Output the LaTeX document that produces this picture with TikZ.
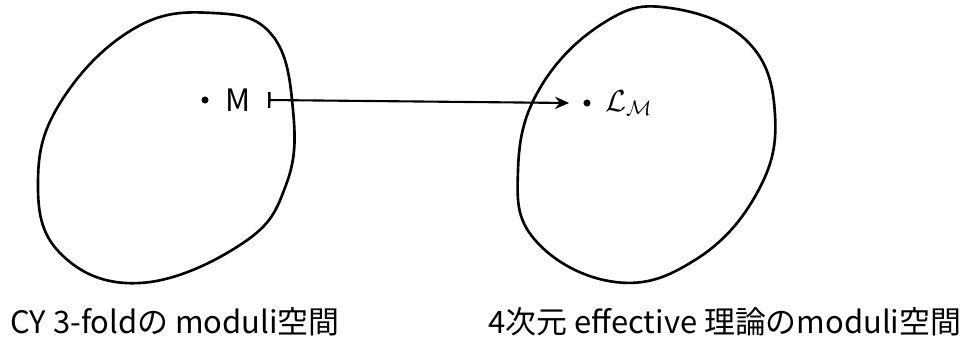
\documentclass[tikz,border=0pt]{standalone}
\usepackage{fontspec}
\usepackage{amsmath}
\newfontfamily\jpfont{Noto Sans CJK JP}
\usetikzlibrary{arrows.meta,positioning}

\tikzset{
    blob/.style={line width=1.5pt, line join=round},
    pt/.style={circle, fill=black, inner sep=0pt, minimum size=4pt},
    lbl/.style={font=\jpfont\fontsize{17.6}{20}\selectfont, inner sep=0pt},
    maps/.style={{Bar[width=9pt,line width=1.4pt]}-{Stealth[length=8pt,width=7pt]}, line width=1.2pt}
}

\begin{document}
\begin{tikzpicture}[x=0.02cm, y=-0.02cm]
\useasboundingbox (0,0) rectangle (972,351);

% moduli space of the CY 3-fold
\draw[blob] plot[smooth cycle, tension=0.7] coordinates {
    (213,13) (272,35) (293,110) (286,185) (243,243) (140,283)
    (60,253) (38,180) (62,100) (135,28)};

% moduli space of the 4d effective theory
\draw[blob] plot[smooth cycle, tension=0.7] coordinates {
    (670,8) (748,42) (775,115) (757,193) (695,260) (615,282)
    (535,240) (518,170) (540,88) (605,22)};

\node[pt] (pM) at (205,100) {};
\node[lbl, right=9pt of pM] (M) {M};
\node[pt] (pL) at (587,103) {};
\node[right=8pt of pL, inner sep=0pt] (L) {\LARGE$\mathcal{L}_{\mathcal{M}}$};

\draw[maps] ([xshift=10pt]M.east) -- ([xshift=-8pt]pL.west);

\node[lbl] (cy) at (175,322) {CY 3-foldの moduli空間};
\node[lbl] (eff) at (725,322) {4次元 effective 理論のmoduli空間};
\end{tikzpicture}
\end{document}
